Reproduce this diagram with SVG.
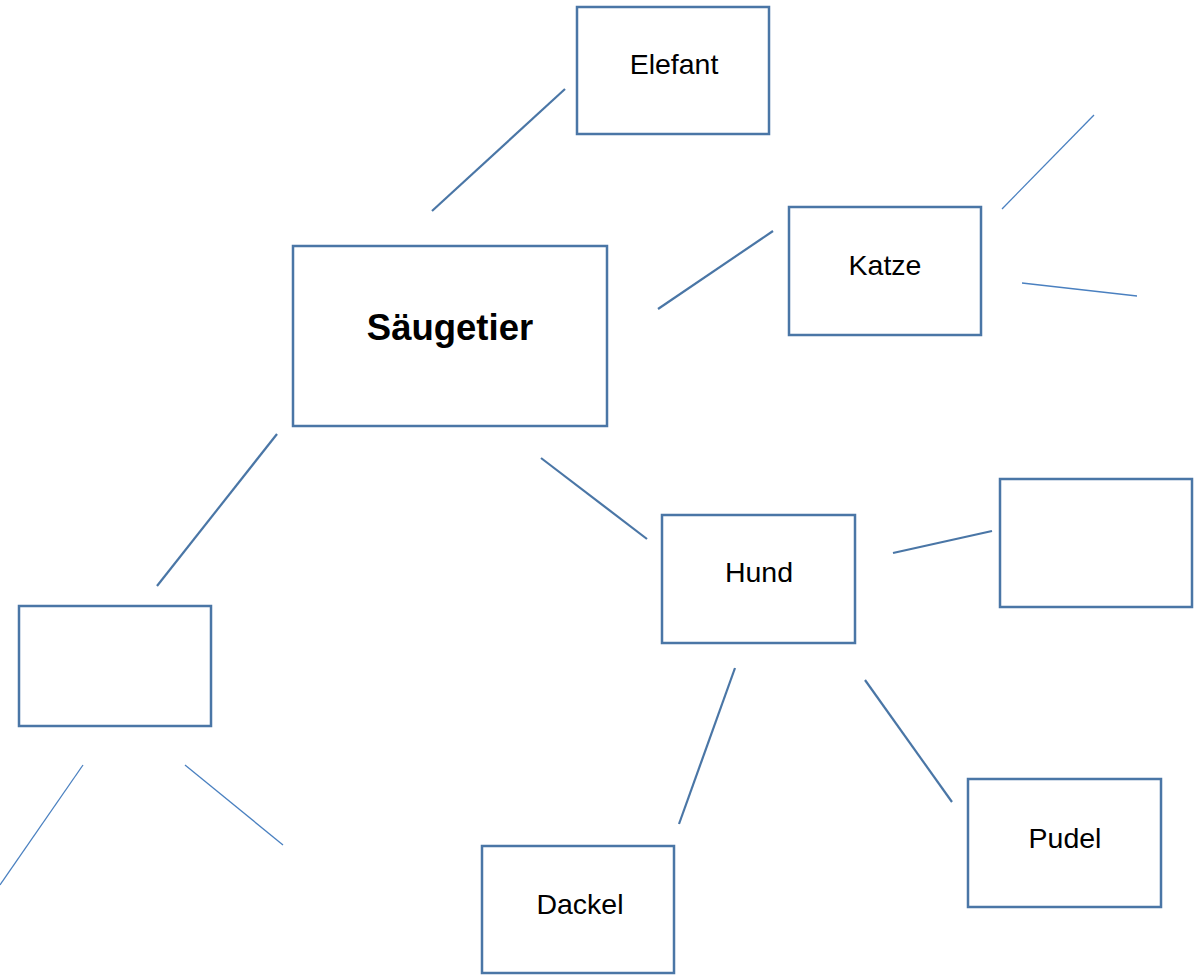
<svg xmlns="http://www.w3.org/2000/svg" width="1195" height="975" viewBox="0 0 1195 975">
<style>
.box{fill:#fff;stroke:#4a76a6;stroke-width:2.5}
.lbl{font-family:"Liberation Sans",Arial,sans-serif;font-size:28.5px;fill:#000;text-anchor:middle}
.big{font-size:36.5px;font-weight:bold}
.thick{stroke:#4a76a6;stroke-width:2.2;fill:none}
.thin{stroke:#4a80c0;stroke-width:1.3;fill:none}
</style>
<rect width="1195" height="975" fill="#fff"/>
<g id="connectors">
<line class="thick" x1="432" y1="211" x2="565" y2="89"/>
<line class="thick" x1="658" y1="309" x2="773" y2="231"/>
<line class="thin" x1="1002" y1="209" x2="1094" y2="115"/>
<line class="thin" x1="1022" y1="283" x2="1137" y2="296"/>
<line class="thick" x1="277" y1="434" x2="157" y2="586"/>
<line class="thick" x1="541" y1="458" x2="647" y2="539"/>
<line class="thick" x1="893" y1="553" x2="992" y2="531"/>
<line class="thick" x1="735" y1="668" x2="679" y2="824"/>
<line class="thick" x1="865" y1="680" x2="952" y2="802"/>
<line class="thin" x1="83" y1="765" x2="0" y2="885"/>
<line class="thin" x1="185" y1="765" x2="283" y2="845"/>
</g>
<g id="elefant"><rect class="box" x="577" y="7" width="192" height="127"/><text class="lbl" x="674" y="74">Elefant</text></g>
<g id="katze"><rect class="box" x="789" y="207" width="192" height="128"/><text class="lbl" x="885" y="275">Katze</text></g>
<g id="saeugetier"><rect class="box" x="293" y="246" width="314" height="180"/><text class="lbl big" x="450" y="340">Säugetier</text></g>
<g id="hund"><rect class="box" x="662" y="515" width="193" height="128"/><text class="lbl" x="759" y="582">Hund</text></g>
<g id="leer-rechts"><rect class="box" x="1000" y="479" width="192" height="128"/></g>
<g id="leer-links"><rect class="box" x="19" y="606" width="192" height="120"/></g>
<g id="dackel"><rect class="box" x="482" y="846" width="192" height="127"/><text class="lbl" x="580" y="914">Dackel</text></g>
<g id="pudel"><rect class="box" x="968" y="779" width="193" height="128"/><text class="lbl" x="1065" y="848">Pudel</text></g>
</svg>
